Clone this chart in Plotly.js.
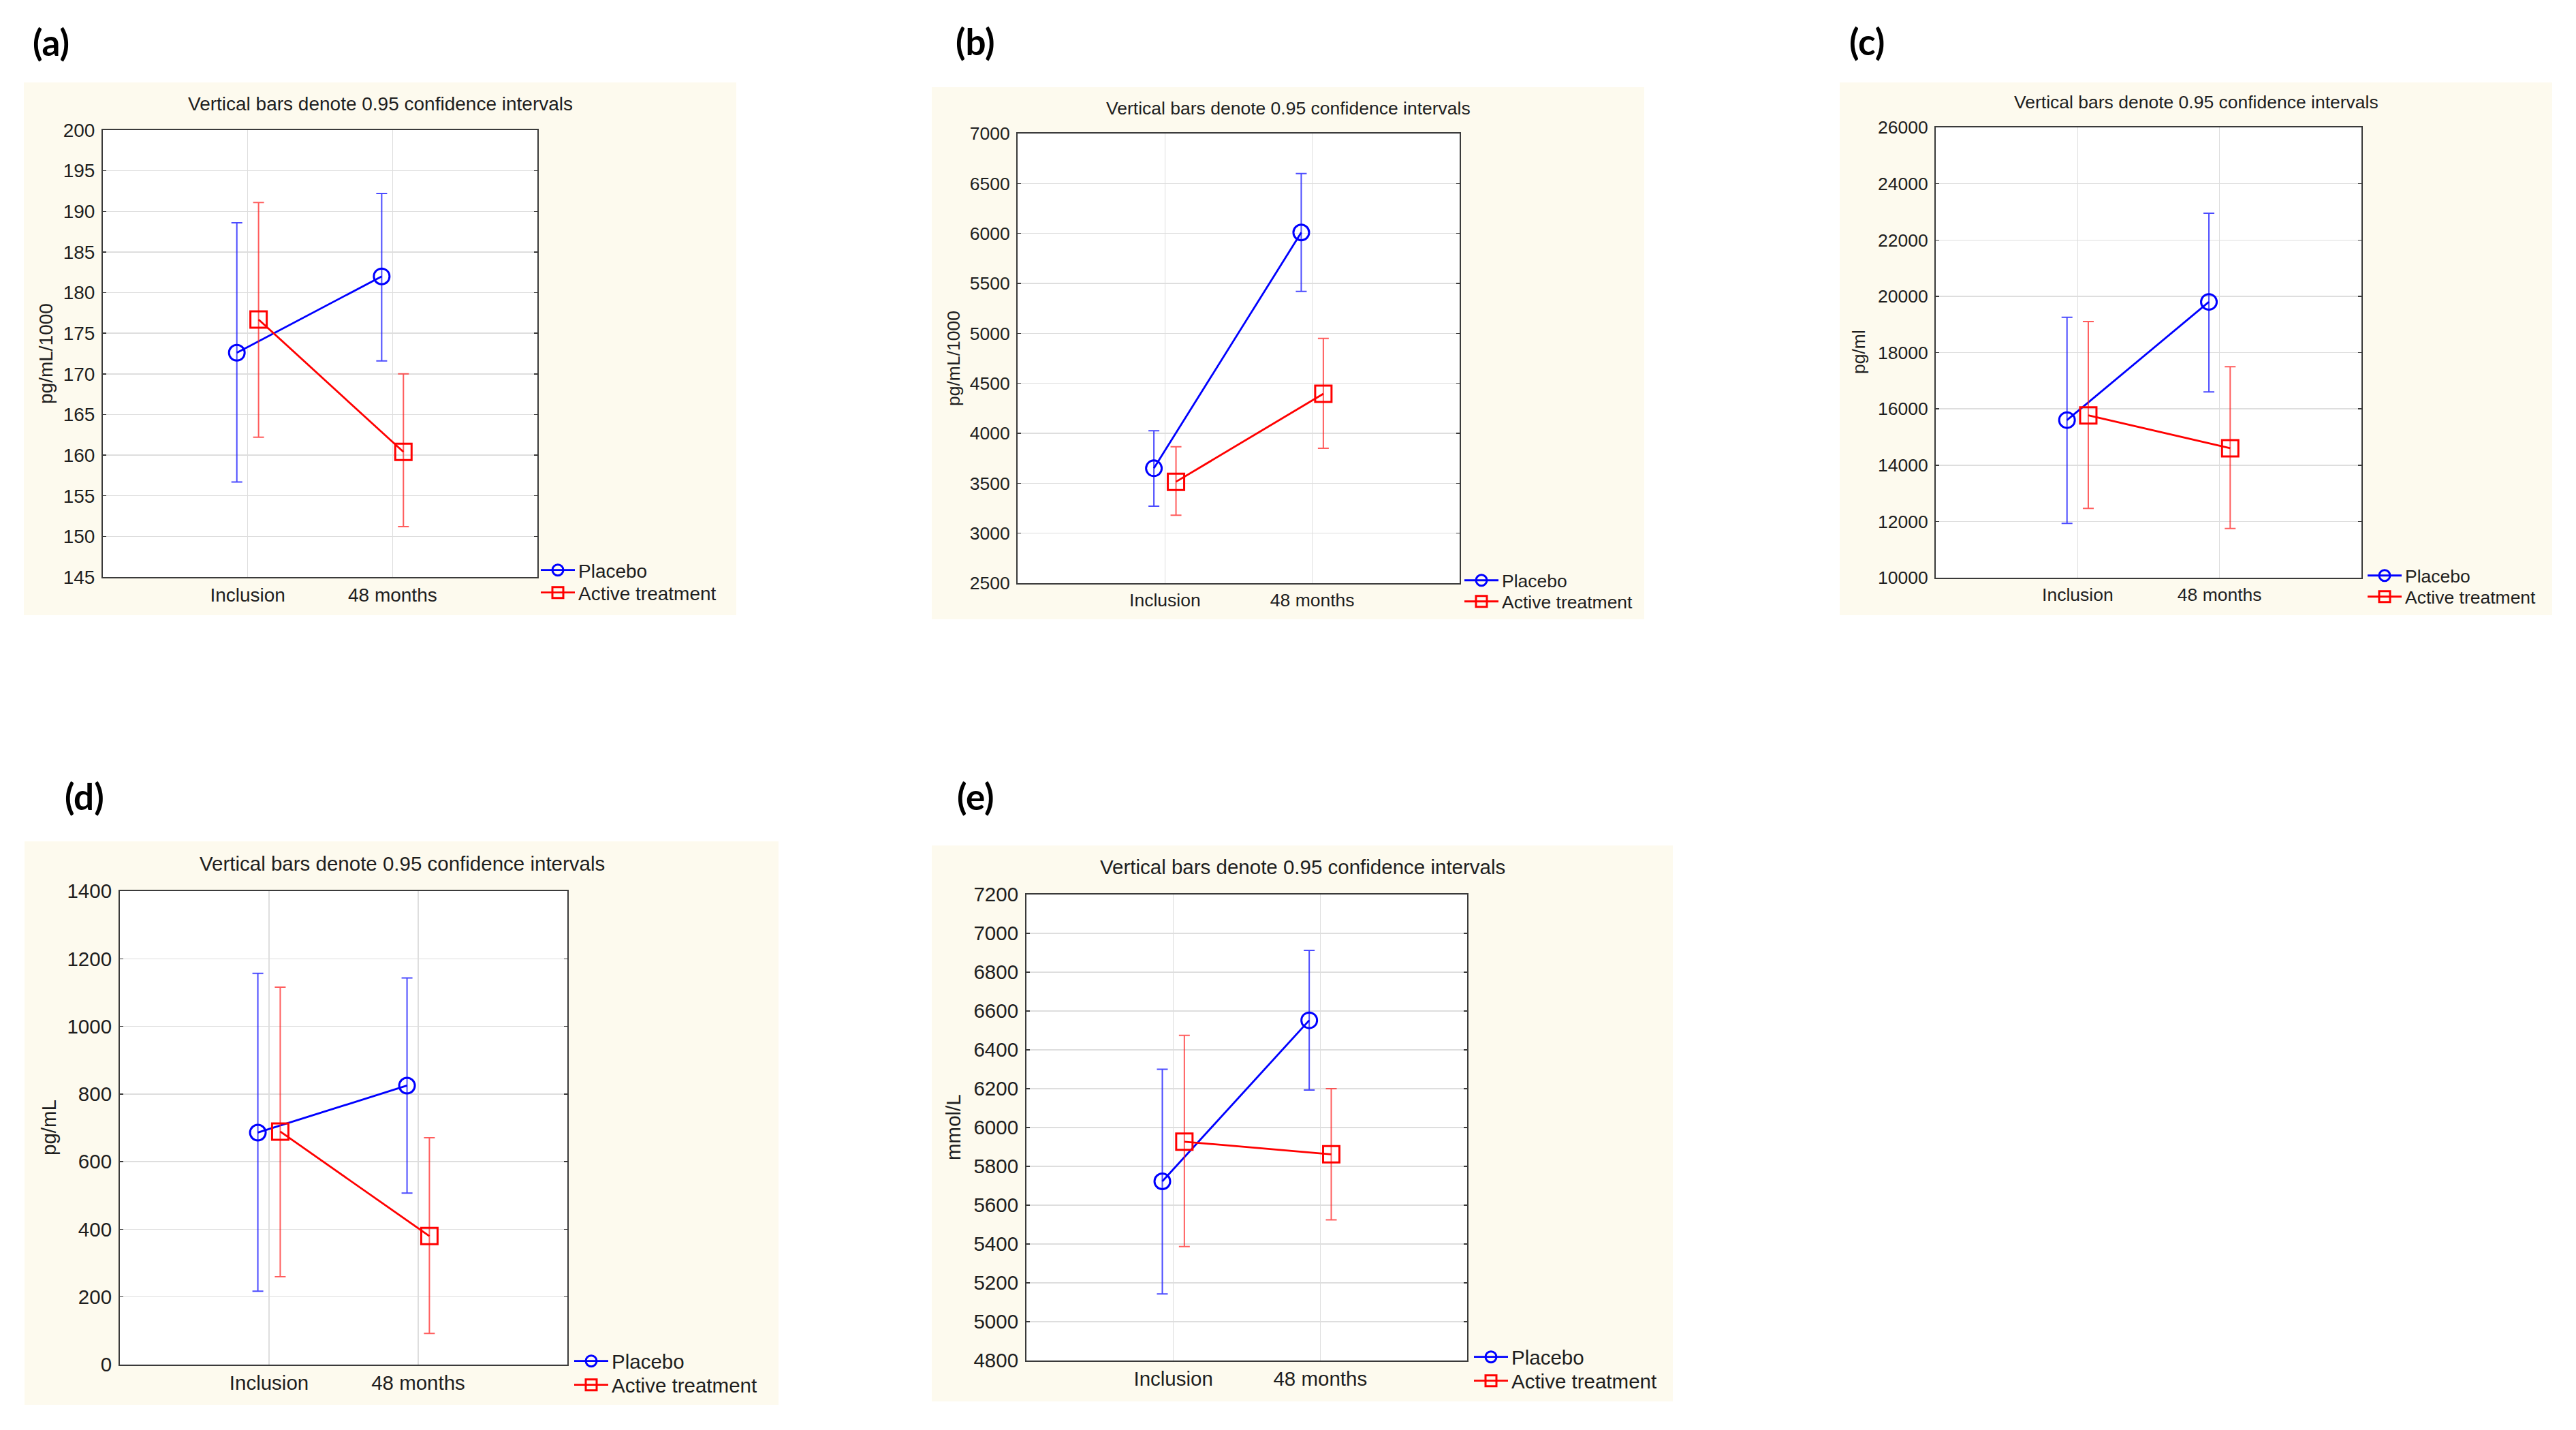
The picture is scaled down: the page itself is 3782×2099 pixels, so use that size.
<!DOCTYPE html>
<html>
<head>
<meta charset="utf-8">
<script src="https://cdn.plot.ly/plotly-3.0.1.min.js"></script>
<style>html,body{margin:0;padding:0;background:#fff;}#chart{width:3782px;height:2099px;}</style>
</head>
<body>
<div id="chart"></div>
<script>
// ---------------- DATA ----------------
const categories = ['Inclusion', '48 months'];
const seriesNames = ['Placebo', 'Active treatment'];
const panelLabels = ['(a)', '(b)', '(c)', '(d)', '(e)'];
const panelTitle = 'Vertical bars denote 0.95 confidence intervals';
const yTitles = ['pg/mL/1000', 'pg/mL/1000', 'pg/ml', 'pg/mL', 'mmol/L'];

// panel (a)
const aPlaceboMean = [172.6, 182.0];
const aPlaceboUpper = [188.6, 192.2];
const aPlaceboLower = [156.7, 171.6];
const aActiveMean = [176.7, 160.4];
const aActiveUpper = [191.1, 170.0];
const aActiveLower = [162.2, 151.2];
// panel (b)
const bPlaceboMean = [3650, 6010];
const bPlaceboUpper = [4025, 6600];
const bPlaceboLower = [3270, 5420];
const bActiveMean = [3515, 4395];
const bActiveUpper = [3865, 4950];
const bActiveLower = [3180, 3850];
// panel (c)
const cPlaceboMean = [15600, 19800];
const cPlaceboUpper = [19250, 22950];
const cPlaceboLower = [11930, 16600];
const cActiveMean = [15770, 14600];
const cActiveUpper = [19100, 17500];
const cActiveLower = [12460, 11750];
// panel (d)
const dPlaceboMean = [686, 825];
const dPlaceboUpper = [1157, 1143];
const dPlaceboLower = [217, 507];
const dActiveMean = [689, 380];
const dActiveUpper = [1116, 671];
const dActiveLower = [260, 92];
// panel (e)
const ePlaceboMean = [5723, 6552];
const ePlaceboUpper = [6300, 6912];
const ePlaceboLower = [5143, 6193];
const eActiveMean = [5927, 5862];
const eActiveUpper = [6475, 6200];
const eActiveLower = [5387, 5525];

// y axis ranges / tick steps
const yRanges = [[145, 200], [2500, 7000], [10000, 26000], [0, 1400], [4800, 7200]];
const yDticks = [5, 500, 2000, 200, 200];

// ---------------- LAYOUT (pixels) ----------------
const W = 3782, H = 2099;
const boxes = [
  {plot: [151, 191, 789, 847], bg: [35, 121, 1081, 903], label: [75, 62], title: [558, 152], ytitle: [67, 519], legX: 789, legRows: [837, 870], font: 28},
  {plot: [1494, 196, 2143, 856], bg: [1368, 128, 2414, 909], label: [1432, 60], title: [1891, 159], ytitle: [1400, 526], legX: 2145, legRows: [852, 883], font: 26.5},
  {plot: [2842, 187, 3467, 848], bg: [2701, 121, 3747, 903], label: [2741, 60], title: [3224, 150], ytitle: [2729, 517], legX: 3471, legRows: [845, 876], font: 26.5},
  {plot: [176, 1308, 833, 2003], bg: [36, 1235, 1143, 2062], label: [124, 1168], title: [590, 1267], ytitle: [71, 1655], legX: 838, legRows: [1998, 2033], font: 29.5},
  {plot: [1507, 1313, 2154, 1997], bg: [1368, 1241, 2456, 2057], label: [1432, 1168], title: [1912, 1272], ytitle: [1399, 1655], legX: 2159, legRows: [1992, 2027], font: 29.5}
];

const FONT = 'Liberation Sans, Arial, sans-serif';
const TXT = '#1e1e1e';
const BLUE = '#0000ff', RED = '#ff0000';
const BG = '#fdfaee';

const panelData = [
  [[aPlaceboMean, aPlaceboUpper, aPlaceboLower], [aActiveMean, aActiveUpper, aActiveLower]],
  [[bPlaceboMean, bPlaceboUpper, bPlaceboLower], [bActiveMean, bActiveUpper, bActiveLower]],
  [[cPlaceboMean, cPlaceboUpper, cPlaceboLower], [cActiveMean, cActiveUpper, cActiveLower]],
  [[dPlaceboMean, dPlaceboUpper, dPlaceboLower], [dActiveMean, dActiveUpper, dActiveLower]],
  [[ePlaceboMean, ePlaceboUpper, ePlaceboLower], [eActiveMean, eActiveUpper, eActiveLower]]
];

const px = v => v / W;
const py = v => 1 - v / H;

const traces = [];
const layout = {
  width: W, height: H,
  margin: {l: 0, r: 0, t: 0, b: 0},
  paper_bgcolor: '#ffffff',
  plot_bgcolor: '#ffffff',
  showlegend: true,
  scattermode: 'group',
  scattergap: 0.7,
  hovermode: false,
  shapes: [],
  annotations: []
};

const styles = [
  {color: BLUE, err: 'rgba(30,30,255,0.8)', symbol: 'circle-open', size: 23},
  {color: RED, err: 'rgba(255,30,30,0.72)', symbol: 'square-open', size: 24}
];

let legCount = 0;
boxes.forEach((b, i) => {
  const n = i + 1;
  const sfx = n === 1 ? '' : String(n);
  const xa = 'x' + sfx, ya = 'y' + sfx;
  const fs = b.font;

  panelData[i].forEach((s, k) => {
    const [mean, up, lo] = s;
    legCount += 1;
    const legId = 'legend' + (legCount === 1 ? '' : legCount);
    traces.push({
      type: 'scatter', mode: 'lines+markers',
      name: seriesNames[k],
      x: categories, y: mean,
      xaxis: xa, yaxis: ya, legend: legId,
      line: {color: styles[k].color, width: 2.8},
      marker: {symbol: styles[k].symbol, size: styles[k].size, color: styles[k].color, line: {width: 3, color: styles[k].color}},
      error_y: {
        type: 'data', symmetric: false,
        array: up.map((u, j) => u - mean[j]),
        arrayminus: lo.map((l, j) => mean[j] - l),
        color: styles[k].err, thickness: 2, width: 8
      },
      cliponaxis: false
    });
    layout[legId] = {
      x: px(b.legX), y: py(b.legRows[k]),
      xanchor: 'left', yanchor: 'middle',
      xref: 'paper', yref: 'paper',
      bgcolor: 'rgba(0,0,0,0)', borderwidth: 0,
      font: {family: FONT, size: fs, color: TXT},
      itemwidth: 50, tracegroupgap: 0
    };
  });

  layout['xaxis' + sfx] = {
    domain: [px(b.plot[0]), px(b.plot[2])],
    anchor: ya,
    type: 'category',
    categoryorder: 'array', categoryarray: categories,
    range: [-1, 2],
    showgrid: true, gridcolor: '#dedede', gridwidth: 1.5,
    showline: true, linecolor: '#3a3a3a', linewidth: 2, mirror: true,
    ticks: '', zeroline: false,
    tickfont: {family: FONT, size: fs, color: TXT},
    ticklabelstandoff: 0,
    fixedrange: true
  };
  layout['yaxis' + sfx] = {
    domain: [py(b.plot[3]), py(b.plot[1])],
    anchor: xa,
    range: yRanges[i],
    tick0: yRanges[i][0], dtick: yDticks[i],
    tickformat: 'd',
    showgrid: true, gridcolor: '#dedede', gridwidth: 1.5,
    showline: true, linecolor: '#3a3a3a', linewidth: 2, mirror: 'ticks',
    ticks: 'inside', ticklen: 5, tickcolor: '#3a3a3a', tickwidth: 1.5,
    zeroline: false,
    tickfont: {family: FONT, size: fs, color: TXT},
    ticklabelstandoff: 4,
    fixedrange: true
  };

  // beige panel background
  layout.shapes.push({type: 'rect', xref: 'paper', yref: 'paper', layer: 'below',
    x0: px(b.bg[0]), x1: px(b.bg[2]), y0: py(b.bg[3]), y1: py(b.bg[1]),
    fillcolor: BG, line: {width: 0}});
  // white plotting area
  layout.shapes.push({type: 'rect', xref: xa + ' domain', yref: ya + ' domain', layer: 'below',
    x0: 0, x1: 1, y0: 0, y1: 1, fillcolor: '#ffffff', line: {width: 0}});

  // panel label
  layout.annotations.push({xref: 'paper', yref: 'paper', x: px(b.label[0]), y: py(b.label[1]),
    xanchor: 'center', yanchor: 'middle', showarrow: false, text: '<b>' + panelLabels[i] + '</b>',
    font: {family: 'Lato, Liberation Sans, sans-serif', size: 53, color: '#000'}});
  // chart title
  layout.annotations.push({xref: 'paper', yref: 'paper', x: px(b.title[0]), y: py(b.title[1]),
    xanchor: 'center', yanchor: 'middle', showarrow: false, text: panelTitle,
    font: {family: FONT, size: fs, color: TXT}});
  // y axis title
  layout.annotations.push({xref: 'paper', yref: 'paper', x: px(b.ytitle[0]), y: py(b.ytitle[1]),
    xanchor: 'center', yanchor: 'middle', showarrow: false, text: yTitles[i], textangle: -90,
    font: {family: FONT, size: fs, color: TXT}});
});

Plotly.newPlot('chart', traces, layout, {staticPlot: true, displayModeBar: false});
</script>
</body>
</html>
